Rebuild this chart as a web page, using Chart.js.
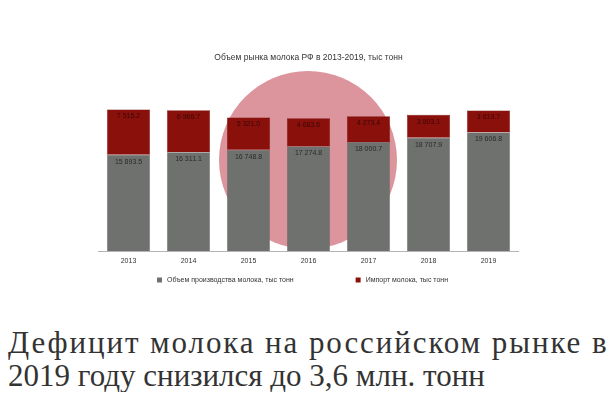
<!DOCTYPE html>
<html lang="ru">
<head>
<meta charset="utf-8">
<script src="https://cdn.jsdelivr.net/npm/chart.js@4/dist/chart.umd.min.js"></script>
<style>
  body { margin: 0; background: #fff; }
  #wrap { position: relative; width: 610px; height: 300px; }
  h1 {
    margin: 0;
    padding: 26px 0 0 8px;
    font-family: "Liberation Serif", "DejaVu Serif", serif;
    font-weight: normal;
    font-size: 31px;
    line-height: 33px;
    white-space: nowrap;
    color: #333;
  }
  h1 .l1 { letter-spacing: 1.9px; }
  h1 .l2 { letter-spacing: 0; }
</style>
</head>
<body>
<div id="wrap"><canvas id="myChart" width="610" height="300"></canvas></div>
<h1><span class="l1">Дефицит молока на российском рынке в</span><br><span class="l2">2019 году снизился до 3,6 млн. тонн</span></h1>
<script>
// chart data
const years = ['2013', '2014', '2015', '2016', '2017', '2018', '2019'];
const production = [15893.5, 16311.1, 16748.8, 17274.8, 18000.7, 18707.9, 19606.8];
const imports = [7515.2, 6966.7, 5321.0, 4683.6, 4273.4, 3803.1, 3619.7];
const seriesNames = ['Объем производства молока, тыс тонн', 'Импорт молока, тыс тонн'];
const chartTitle = 'Объем рынка молока РФ в 2013-2019, тыс тонн';

const colors = ['#6f716f', '#8a100c'];
const sans = '"Liberation Sans", Arial, sans-serif';

function fmt(v) {
  let parts = v.toFixed(1).split('.');
  return parts[0].replace(/\B(?=(\d{3})+(?!\d))/g, ' ') + '.' + parts[1];
}

// pink round watermark behind the bars
const watermark = {
  id: 'watermark',
  beforeDatasetsDraw(chart) {
    const ctx = chart.ctx;
    ctx.save();
    ctx.fillStyle = '#dc959c';
    ctx.beginPath();
    ctx.arc(308, 160, 89, 0, Math.PI * 2);
    ctx.fill();
    ctx.restore();
  }
};

// value labels at the top of every segment
const barLabels = {
  id: 'barLabels',
  afterDatasetsDraw(chart) {
    const ctx = chart.ctx;
    ctx.save();
    ctx.font = '7px ' + sans;
    ctx.textAlign = 'center';
    ctx.textBaseline = 'middle';
    chart.data.datasets.forEach((ds, i) => {
      chart.getDatasetMeta(i).data.forEach((bar, j) => {
        ctx.fillStyle = i === 0 ? '#2a2a2a' : '#3a0806';
        ctx.fillText(fmt(ds.data[j]), bar.x, bar.y + 7);
      });
    });
    ctx.restore();
  }
};

// legend under the axis, items spaced wide apart
const bottomLegend = {
  id: 'bottomLegend',
  afterDraw(chart) {
    const ctx = chart.ctx;
    ctx.save();
    ctx.font = '7px ' + sans;
    ctx.textBaseline = 'middle';
    let x = 157;
    const y = 280;
    chart.data.datasets.forEach((ds, i) => {
      ctx.fillStyle = ds.backgroundColor;
      ctx.fillRect(x, y - 2.5, 5, 5);
      ctx.fillStyle = '#333';
      ctx.fillText(ds.label, x + 10, y);
      x += 10 + ctx.measureText(ds.label).width + 62;
    });
    ctx.restore();
  }
};

const ctx = document.getElementById('myChart').getContext('2d');
const myChart = new Chart(ctx, {
  type: 'bar',
  data: {
    labels: years,
    datasets: [
      { label: seriesNames[0], data: production, backgroundColor: colors[0], borderColor: '#5a5c5a', borderWidth: 0.5 },
      { label: seriesNames[1], data: imports, backgroundColor: colors[1], borderColor: '#6e0c09', borderWidth: 0.5 }
    ]
  },
  options: {
    responsive: false,
    animation: false,
    layout: { padding: { left: 98.5, right: 91.5, top: 0, bottom: 28.6 } },
    datasets: { bar: { barPercentage: 0.72, categoryPercentage: 1 } },
    scales: {
      x: {
        stacked: true,
        grid: { display: false, drawTicks: false },
        border: { display: true, color: '#b4b4b4', width: 1 },
        ticks: { color: '#333', font: { family: sans, size: 7 }, padding: 6 }
      },
      y: {
        stacked: true,
        display: false,
        min: 0,
        max: 26000
      }
    },
    plugins: {
      legend: { display: false },
      tooltip: { enabled: false },
      title: {
        display: true,
        text: chartTitle,
        color: '#333',
        font: { family: sans, size: 8.5, weight: 'normal' },
        padding: { top: 53, bottom: 30.5 }
      }
    }
  },
  plugins: [watermark, barLabels, bottomLegend]
});
</script>
</body>
</html>
